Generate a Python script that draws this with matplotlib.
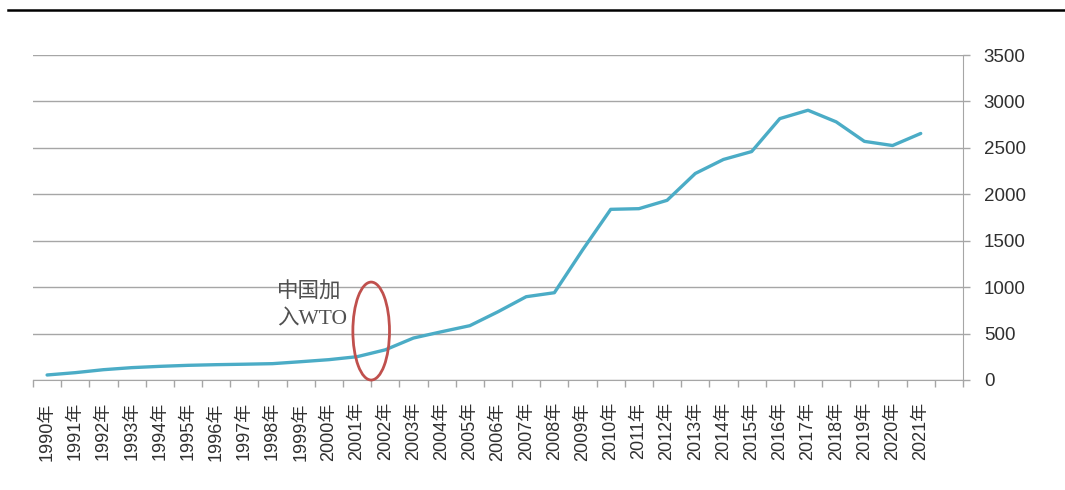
import matplotlib.pyplot as plt
from matplotlib.patches import Ellipse
from matplotlib.lines import Line2D

plt.rcParams['font.family'] = ['Liberation Sans', 'Noto Sans CJK SC', 'DejaVu Sans']

# data
years = [str(y) + '年' for y in range(1990, 2022)]
values = [54, 79, 111, 133, 147, 158, 165, 170, 176, 197, 219, 251,
          325, 452, 520, 585, 735, 897, 940, 1400, 1838, 1845, 1935,
          2224, 2375, 2460, 2815, 2905, 2780, 2570, 2525, 2655]
y_ticks = [0, 500, 1000, 1500, 2000, 2500, 3000, 3500]
note_text = '中国加\n入WTO'

fig = plt.figure(figsize=(10.65, 4.9), dpi=100)
ax = fig.add_axes([33 / 1065, 1 - 380 / 490, 930 / 1065, 325 / 490])

x = list(range(len(years)))
ax.plot(x, values, color='#4BACC6', linewidth=2.4, solid_capstyle='round', zorder=3)

# WTO accession marker
ax.add_patch(Ellipse((11.5, 527), width=1.3, height=1055, fill=False,
                     edgecolor='#C0504D', linewidth=2.0, zorder=4, clip_on=False))
ax.text(8.15, 795, note_text, fontsize=15.5, color='#505050', va='center',
        ha='left', linespacing=1.55,
        family=['Liberation Serif', 'Noto Sans CJK SC'])

# axes styling
ax.set_xlim(-0.5, len(years) + 0.5)
ax.set_ylim(0, 3500)
ax.yaxis.tick_right()
ax.set_yticks(y_ticks)
ax.set_yticklabels([str(v) for v in y_ticks], fontsize=13.5, color='#303030')
ax.tick_params(axis='y', length=5, width=1, color='#A6A6A6', pad=10)
ax.grid(axis='y', color='#A6A6A6', linewidth=1.0)
ax.set_axisbelow(True)

ax.set_xticks(x + [len(years)])
ax.set_xticklabels(years + [''], rotation=90, fontsize=13, color='#303030')
ax.set_xticks([i - 0.5 for i in range(len(years) + 2)], minor=True)
ax.tick_params(axis='x', which='major', length=0, pad=16)
ax.tick_params(axis='x', which='minor', length=5, width=1, color='#A6A6A6')

for side in ['top', 'left']:
    ax.spines[side].set_visible(False)
ax.spines['right'].set_color('#A6A6A6')
ax.spines['bottom'].set_color('#A6A6A6')

# frame line at the top of the picture
fig.add_artist(Line2D([8 / 1065, 1.0], [1 - 10 / 490, 1 - 10 / 490],
                      color='black', linewidth=1.8))

fig.savefig('out.png', dpi=100)
